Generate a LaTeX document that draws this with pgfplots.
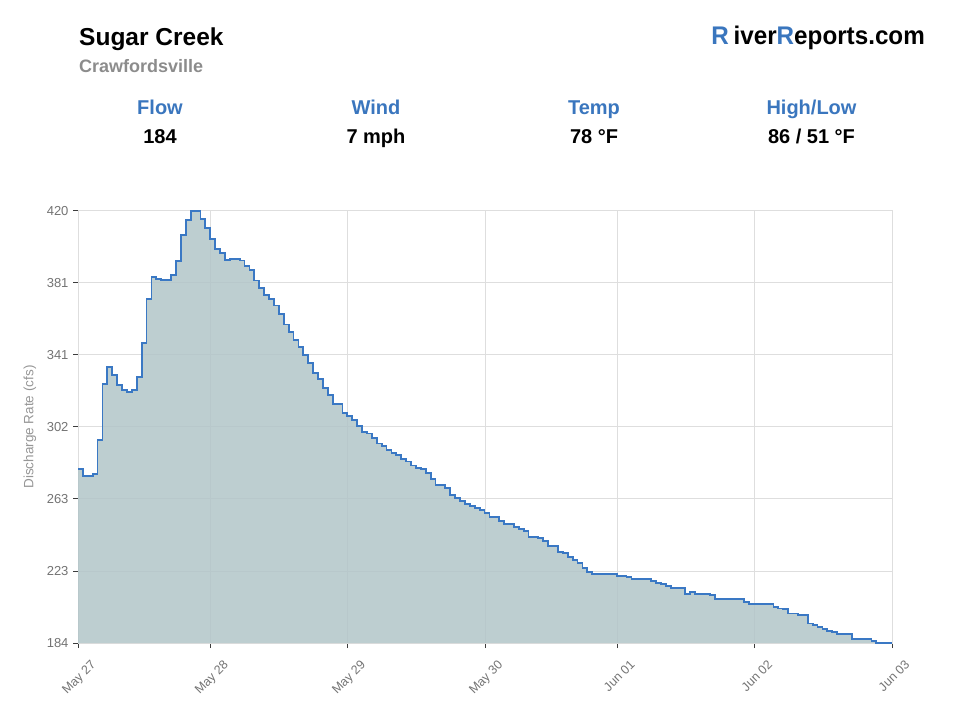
\documentclass[border=0pt]{standalone}
\usepackage{fontspec}
\setmainfont{Liberation Sans}
\usepackage{graphicx}
\usepackage{pgfplots}
\usepackage{pgfplotstable}
\pgfplotsset{compat=1.18}
\definecolor{fillc}{RGB}{178,197,200}
\definecolor{linec}{RGB}{58,120,196}
\definecolor{headblue}{RGB}{58,118,190}
\definecolor{gridc}{RGB}{222,222,222}
\definecolor{tickc}{RGB}{60,60,60}
\definecolor{labelc}{RGB}{115,115,115}
\definecolor{ylabc}{RGB}{150,150,150}
\definecolor{subgray}{RGB}{140,140,140}

\pgfplotstableread{
x y
0 278.9
1 275.2
2 275.2
3 276.3
4 294.9
5 325.7
6 334.9
7 330.4
8 324.8
9 322.1
10 321.1
11 322.1
12 329.3
13 348.1
14 371.8
15 384.1
16 383.0
17 382.1
18 382.1
19 385.2
20 392.8
21 406.7
22 414.9
23 420.0
24 420.0
25 415.8
26 410.7
27 404.8
28 399.1
29 397.2
30 393.2
31 393.9
32 393.9
33 393.0
34 390.0
35 387.7
36 382.0
37 378.0
38 374.0
39 372.0
40 368.4
41 363.8
42 358.0
43 354.1
44 349.5
45 345.9
46 341.3
47 336.8
48 331.3
49 328.2
50 323.5
51 319.5
52 314.4
53 314.4
54 309.8
55 307.8
56 305.8
57 302.7
58 299.1
59 298.5
60 295.8
61 293.0
62 291.8
63 289.5
64 288.0
65 286.9
66 284.6
67 283.2
68 281.0
69 279.7
70 279.1
71 276.9
72 273.6
73 270.3
74 270.3
75 268.8
76 264.9
77 263.4
78 261.7
79 259.8
80 258.8
81 257.9
82 256.6
83 255.1
84 253.0
85 253.0
86 250.8
87 249.0
88 249.0
89 247.5
90 246.1
91 245.2
92 242.1
93 242.1
94 241.2
95 239.9
96 237.0
97 237.0
98 233.9
99 233.0
100 230.8
101 229.3
102 227.9
103 224.8
104 222.8
105 221.7
106 221.7
107 221.7
108 221.7
109 221.7
110 220.8
111 220.8
112 219.9
113 219.1
114 219.1
115 219.1
116 219.1
117 218.0
118 216.9
119 216.1
120 215.3
121 213.9
122 213.9
123 213.9
124 210.9
125 211.9
126 210.9
127 210.9
128 210.9
129 210.2
130 207.9
131 207.9
132 207.9
133 207.9
134 207.9
135 207.9
136 206.4
137 205.1
138 205.1
139 205.1
140 205.1
141 205.1
142 203.8
143 202.9
144 202.4
145 200.1
146 200.1
147 199.2
148 199.2
149 194.7
150 193.8
151 192.9
152 191.6
153 190.7
154 189.8
155 189.1
156 189.1
157 189.1
158 186.0
159 186.0
160 186.0
161 186.0
162 185.3
163 184.0
164 184.0
165 184.0
166.2 184.0
}\flowdata

\begin{document}
\begin{tikzpicture}
\path[use as bounding box] (0,0) rectangle (960pt,720pt);

% header
\node[anchor=base west, inner sep=0] at (79pt,674.3pt) {\fontsize{24.5}{26}\selectfont\bfseries Sugar Creek};
\node[anchor=base west, inner sep=0, text=subgray] at (79pt,647.3pt) {\fontsize{18}{20}\selectfont\bfseries Crawfordsville};
\node[anchor=base east, inner sep=0] at (925pt,675.7pt) {\scalebox{0.95}[1]{\fontsize{25.5}{27}\selectfont\bfseries\textcolor{headblue}{R}\hspace{5pt}iver\textcolor{headblue}{R}eports.com}};

\foreach \cx/\ti/\va in {160/Flow/184, 376/Wind/{7 mph}, 594/Temp/{78 °F}, 811.5/{High\slash Low}/{86 \slash\ 51 °F}}{
  \node[anchor=base, inner sep=0, text=headblue] at (\cx pt,605pt) {\fontsize{20}{22}\selectfont\bfseries \ti};
  \node[anchor=base, inner sep=0] at (\cx pt,576pt) {\fontsize{20}{22}\selectfont\bfseries \va};
}

\node[rotate=90, text=ylabc, inner sep=0] at (30pt,293pt) {\fontsize{13.5}{14}\selectfont Discharge Rate (cfs)};

\begin{axis}[
  at={(78pt,77pt)}, anchor=south west,
  scale only axis, width=814pt, height=432pt,
  xmin=0, xmax=166.2, ymin=184, ymax=420,
  xtick={0,27.1,55.1,83.1,110.1,138.2,166.2},
  xticklabels={May 27,May 28,May 29,May 30,Jun 01,Jun 02,Jun 03},
  ytick={184,223.333,262.667,302,341.333,380.667,420},
  yticklabels={184,223,263,302,341,381,420},
  xtick pos=bottom, ytick pos=left,
  grid=major, major grid style={draw=gridc, line width=1pt},
  axis line style={draw=gridc, line width=1pt},
  tick align=outside, major tick length=5pt,
  tick style={draw=tickc, line width=1pt},
  tick label style={text=labelc},
  yticklabel style={font=\fontsize{13}{14}\selectfont, anchor=east, xshift=-1pt},
  xticklabel style={font=\fontsize{12.5}{13}\selectfont, rotate=45, anchor=north east, xshift=4pt, yshift=-13pt},
]
\addplot[const plot, fill=fillc, fill opacity=0.85, draw=none] table[x=x,y=y] {\flowdata} |- (axis cs:0,184) -- cycle;
\addplot[const plot, draw=linec, line width=1.8pt] table[x=x,y=y] {\flowdata};
\end{axis}
\end{tikzpicture}
\end{document}
